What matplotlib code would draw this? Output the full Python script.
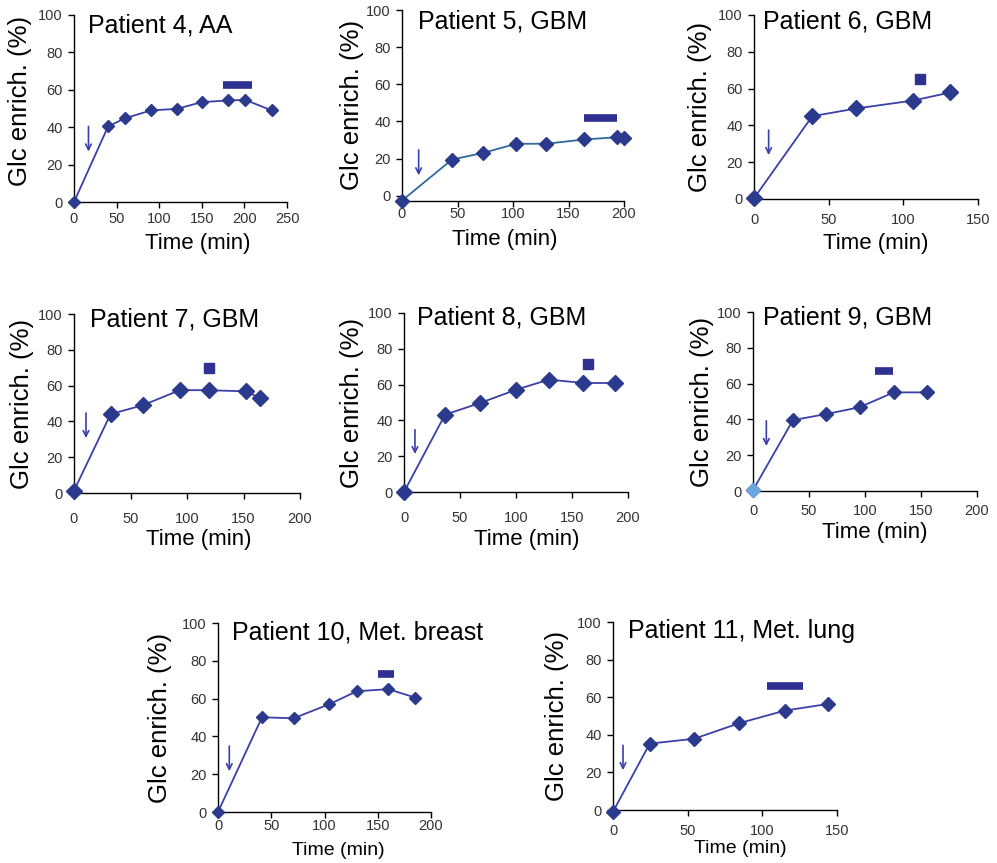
import matplotlib
matplotlib.use("Agg")
import matplotlib.pyplot as plt

plt.rcParams['font.family'] = ['Liberation Sans', 'DejaVu Sans']

W, H = 997, 863

# values: time (min) and glucose enrichment (%)
t4 = [0, 40, 60, 90.5, 120.5, 150, 180.5, 201, 232]
g4 = [0, 40.4, 44.8, 49, 49.8, 53.4, 54.3, 54.6, 49]
t5 = [0, 45, 72.6, 103, 130, 164, 194, 200]
g5 = [-2.6, 19.5, 23, 28, 28, 30.3, 31.5, 31.2]
t6 = [0, 39, 68.5, 106.5, 131.5]
g6 = [0.4, 45, 49.2, 53.5, 57.9]
t7 = [0, 32.4, 60.8, 93.8, 119.8, 152, 164.6]
g7 = [1.3, 44.1, 49, 57.5, 57.4, 56.8, 53.1]
t8 = [0, 36.6, 67.8, 100.4, 129.3, 160, 188]
g8 = [0, 43.2, 49.7, 57.2, 62.8, 60.9, 60.9]
t9 = [0, 35.7, 65.5, 95.2, 125.6, 155.7]
g9 = [0.5, 39.6, 43, 46.8, 55.1, 55.1]
t10 = [0, 41.3, 71, 104.4, 130.3, 160, 185.3]
g10 = [0, 50.1, 49.6, 57, 63.9, 65, 60.5]
t11 = [0, 24.6, 54.4, 84.6, 115.2, 144]
g11 = [-0.9, 35.3, 37.9, 46.2, 52.9, 56.4]

titles = ["Patient 4, AA", "Patient 5, GBM", "Patient 6, GBM", "Patient 7, GBM",
          "Patient 8, GBM", "Patient 9, GBM", "Patient 10, Met. breast",
          "Patient 11, Met. lung"]
times = [t4, t5, t6, t7, t8, t9, t10, t11]
enrich = [g4, g5, g6, g7, g8, g9, g10, g11]

# tumour sampling window (start, end, level) or single sample (time, level)
windows = {0: (174.7, 209, 62.3), 1: (164, 194, 42), 5: (108.6, 125, 67.2),
           6: (150.6, 165.6, 73), 7: (103, 127.5, 65.8)}
samples = {2: (111, 65), 3: (119.8, 69.8), 4: (164.3, 71.7)}
# infusion start arrow (time, from, to)
arrows = [(17, 40.4, 27), (15, 24.7, 11), (9.8, 37.4, 23.9), (10.6, 44.7, 30.7),
          (9.8, 34.8, 21.2), (11.9, 39.2, 25.1), (10.6, 34.9, 21.6), (6.7, 34.4, 21.2)]
xmax = [250, 200, 150, 200, 200, 200, 200, 150]
ymin = [0, -2.6, 0, 0, 0, 0, 0, 0]

# layout in pixels: left, right, top, bottom of axes
boxes = [(74, 287, 15, 202), (402, 624, 10, 200.6), (754, 978, 15, 199),
         (74, 300, 314, 493), (404, 628, 313, 492), (753, 977, 312, 491),
         (218, 431, 623, 812), (613, 837, 622, 810)]
title_pos = [(88, 33), (418, 28), (763, 28), (90, 326), (417, 325), (763, 324),
             (232, 639), (628, 638)]
ylab_x = [20, 352, 700, 22, 352, 702, 160, 557]
ylab_y = [0.54, 0.5, 0.5, 0.5, 0.5, 0.5, 0.5, 0.5]
xlab_pos = [(198, 243), (505, 240), (876, 243), (199, 540), (527, 540),
            (875, 532), (338, 850), (740, 848)]
xlab_size = [16, 16, 16, 16, 16, 16, 14, 14]
xpad = [3.4, 0.5, 6.3, 9.9, 9.9, 5.5, 1.2, 6.3]
msize = [6, 7, 8, 8, 8, 7, 6, 7]

line_col = '#3a40a8'
mark_col = '#2b3a8c'
bar_col = '#2e3192'

fig = plt.figure(figsize=(W / 100, H / 100), dpi=100)

for i in range(8):
    l, r, t, b = boxes[i]
    ax = fig.add_axes([l / W, 1 - b / H, (r - l) / W, (b - t) / H])
    lc = '#2f6a9c' if i == 1 else line_col
    ax.plot(times[i], enrich[i], '-', color=lc, lw=1.3, zorder=2, clip_on=False)
    ax.plot(times[i], enrich[i], 'D', color=mark_col, ms=msize[i], zorder=3,
            clip_on=False)
    if i == 5:
        ax.plot(times[i][0], enrich[i][0], 'D', color='#6aa6dd', ms=msize[i],
                zorder=4, clip_on=False)
    if i in windows:
        x0, x1, yv = windows[i]
        ax.hlines(yv, x0, x1, color=bar_col, lw=5.5)
    if i in samples:
        xs, ys = samples[i]
        ax.plot(xs, ys, 's', color=bar_col, ms=7)
    xa, ya0, ya1 = arrows[i]
    ax.annotate('', xy=(xa, ya1), xytext=(xa, ya0),
                arrowprops=dict(arrowstyle='->', color=line_col, lw=1.2,
                                shrinkA=0, shrinkB=0, mutation_scale=10))

    ax.set_xlim(0, xmax[i])
    ax.set_ylim(ymin[i], 100)
    ax.set_xticks(range(0, xmax[i] + 1, 50))
    ax.set_yticks(range(0, 101, 20))
    for s in ['top', 'right']:
        ax.spines[s].set_visible(False)
    for s in ['left', 'bottom']:
        ax.spines[s].set_linewidth(1.0)
    ax.tick_params(direction='out', length=4, width=1, labelsize=10.5,
                   labelcolor='#333333')
    ax.tick_params(axis='x', pad=xpad[i])
    ax.tick_params(axis='y', pad=4)

    tx, ty = title_pos[i]
    ax.text((tx - l) / (r - l), (b - ty) / (b - t), titles[i],
            transform=ax.transAxes, fontsize=18, ha='left', va='baseline')

    ax.set_ylabel('Glc enrich. (%)', fontsize=18.5)
    ax.yaxis.set_label_coords((ylab_x[i] - l) / (r - l), ylab_y[i])
    ax.yaxis.label.set_verticalalignment('center')

    xx, xy = xlab_pos[i]
    ax.set_xlabel('Time (min)', fontsize=xlab_size[i])
    ax.xaxis.set_label_coords((xx - l) / (r - l), (b - xy) / (b - t))
    ax.xaxis.label.set_verticalalignment('center')

fig.savefig('out.png', dpi=100)
